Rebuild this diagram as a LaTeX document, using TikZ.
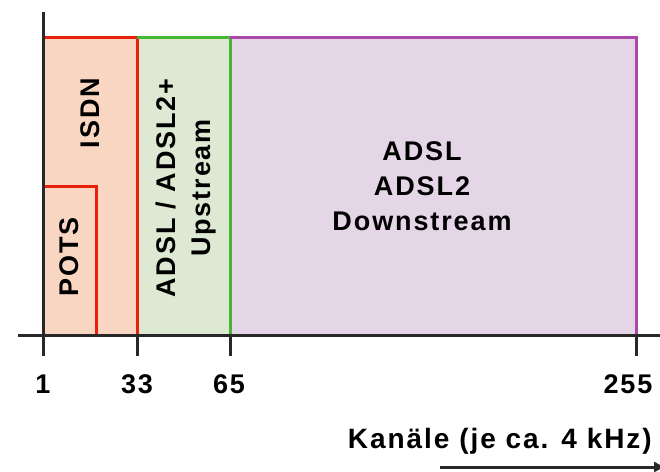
\documentclass[tikz,border=0pt]{standalone}
\usepackage{fontspec}
\setmainfont{Liberation Sans}
\newfontfamily\labelfont{Liberation Sans}[LetterSpace=7]
\usetikzlibrary{positioning,arrows.meta}

\definecolor{axisgray}{RGB}{40,40,40}
\definecolor{isdnred}{RGB}{232,32,12}
\definecolor{isdnfill}{RGB}{248,214,194}
\definecolor{upgreen}{RGB}{72,182,52}
\definecolor{upfill}{RGB}{222,233,212}
\definecolor{downviolet}{RGB}{172,72,172}
\definecolor{downfill}{RGB}{229,214,231}

\tikzset{
  axisline/.style={draw=axisgray,line width=3pt},
  bandline/.style={line width=3pt},
  bandtext/.style={font=\labelfont\bfseries\fontsize{27}{35}\selectfont,text=black,inner sep=0pt},
  ticklabel/.style={bandtext,anchor=base}
}

\begin{document}
\begin{tikzpicture}[x=1pt,y=-1pt]
\useasboundingbox[fill=white](0,0) rectangle (660,471);
% frequency bands
\fill[isdnfill](43,37) rectangle (137,335);
\fill[upfill](137,37) rectangle (230,335);
\fill[downfill](230,37) rectangle (636,335);
\draw[bandline,isdnred](43,37) -- (137,37) -- (137,335);
\draw[bandline,isdnred](43,186) -- (96,186) -- (96,335);
\draw[bandline,upgreen](137,37) -- (230,37) -- (230,335);
\draw[bandline,downviolet](230,37) -- (636,37) -- (636,335);
% axes
\draw[axisline](43,12) -- (43,356);
\draw[axisline](18,335) -- (662,335);
\foreach \x in {137,230,636}
  \draw[axisline](\x,335) -- (\x,356);
% labels
\node[bandtext,rotate=90] (isdn) at (90,113) {ISDN};
\node[bandtext,rotate=90] (pots) at (69,257) {POTS};
\node[bandtext,rotate=90,align=center] (up) at (186,188) {ADSL / ADSL2+\\Upstream};
\node[bandtext,align=center] (down) at (422,186) {ADSL\\ADSL2\\Downstream};
\node[ticklabel] (t1) at (43,393) {1};
\node[ticklabel] (t33) at (137,393) {33};
\node[ticklabel] (t65) at (229,393) {65};
\node[ticklabel] (t255) at (628,393) {255};
\node[bandtext,font=\labelfont\bfseries\fontsize{28}{35}\selectfont,anchor=base east] (kanal) at (652,448) {Kanäle (je ca. 4 kHz)};
\coordinate (arrowstart) at (440,467);
\coordinate (arrowend) at (664,467);
\draw[axisline,-{Triangle[length=10pt,width=10pt]}] (arrowstart) -- (arrowend);
\end{tikzpicture}
\end{document}
